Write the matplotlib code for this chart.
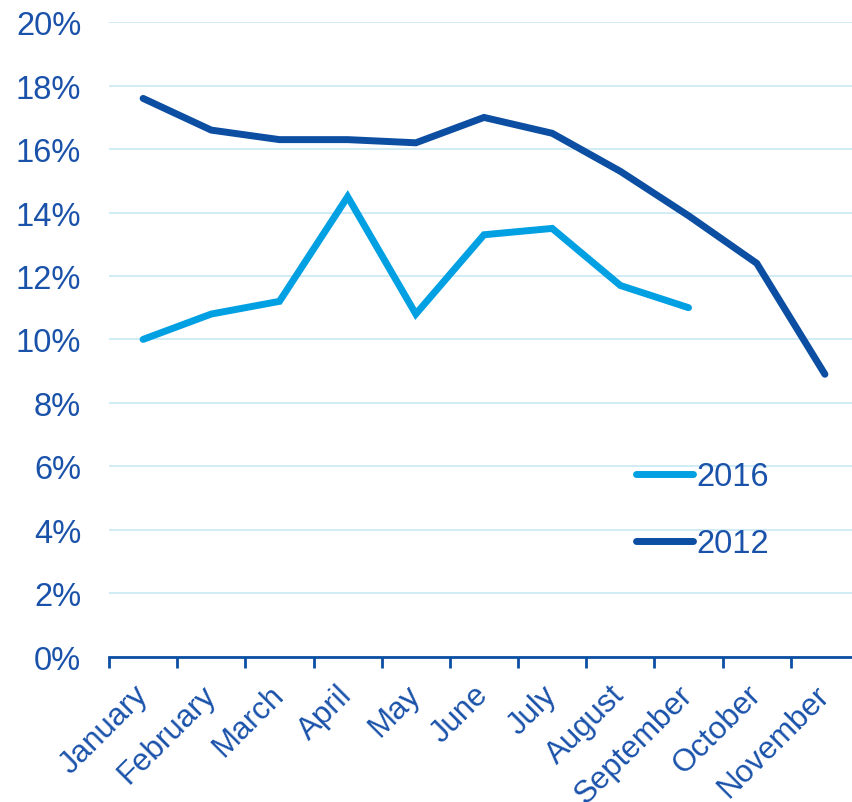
import numpy as np
import matplotlib.pyplot as plt

months = ["January", "February", "March", "April", "May", "June",
          "July", "August", "September", "October", "November"]
rate_2012 = [17.6, 16.6, 16.3, 16.3, 16.2, 17.0, 16.5, 15.3, 13.9, 12.4, 8.9]
rate_2016 = [10.0, 10.8, 11.2, 14.5, 10.8, 13.3, 13.5, 11.7, 11.0]
y_ticks = [0, 2, 4, 6, 8, 10, 12, 14, 16, 18, 20]

TEXT = "#1a52aa"
LIGHT = "#00a0e2"
DARK = "#0b4ea2"
GRID = "#cdeaf5"

plt.rcParams['font.family'] = ['Liberation Sans', 'DejaVu Sans']
plt.rcParams['font.size'] = 23.5

W, H = 852, 803
fig = plt.figure(figsize=(W / 100, H / 100), dpi=100)
left, right, top, bottom = 109, 859, 23.3, 657.5
ax = fig.add_axes([left / W, 1 - bottom / H, (right - left) / W, (bottom - top) / H])

x = np.arange(len(months))
l16, = ax.plot(x[:len(rate_2016)], rate_2016, color=LIGHT, lw=5, solid_capstyle='round',
               solid_joinstyle='miter', label="2016")
l12, = ax.plot(x, rate_2012, color=DARK, lw=5, solid_capstyle='round',
               solid_joinstyle='miter', label="2012")

ax.set_xlim(-0.5, len(months) - 0.5)
ax.set_ylim(0, 20)
ax.set_yticks(y_ticks)
ax.set_yticklabels([f"{v}%" for v in y_ticks], color=TEXT)
ax.yaxis.grid(True, color=GRID, lw=1.3)
ax.set_axisbelow(True)
ax.tick_params(axis='y', length=0, pad=20)

# category boundaries get the tick marks, names sit between them
ax.set_xticks(np.arange(len(months) + 1) - 0.5, minor=False)
ax.set_xticklabels([])
ax.set_xticks(x, minor=True)
ax.set_xticklabels(months, minor=True, rotation=45, ha='right', va='center',
                   rotation_mode='anchor', color=TEXT, fontsize=22.5)
ax.tick_params(axis='x', which='major', length=8, width=2, color=DARK, direction='out')
ax.tick_params(axis='x', which='minor', length=0, pad=24)

for s in ['top', 'right', 'left']:
    ax.spines[s].set_visible(False)
ax.spines['bottom'].set_color(DARK)
ax.spines['bottom'].set_linewidth(2)

leg = ax.legend(handles=[l16, l12], loc='upper left',
                bbox_to_anchor=(623 / W, 1 - 449 / H), bbox_transform=fig.transFigure,
                frameon=False, handlelength=1.75, handletextpad=0.1, labelspacing=1.1,
                borderaxespad=0)
for t in leg.get_texts():
    t.set_color(TEXT)

fig.savefig("out.png", dpi=100)
